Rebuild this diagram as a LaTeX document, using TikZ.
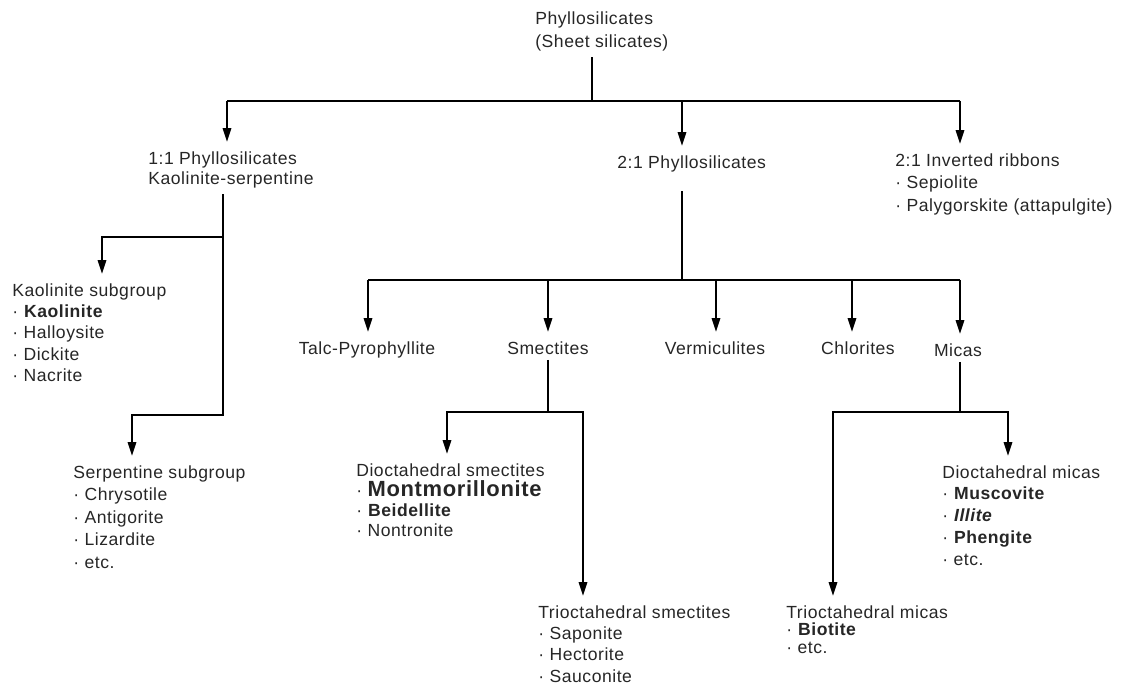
\documentclass[tikz,border=0pt]{standalone}
\usepackage{fontspec}
\setmainfont{Liberation Sans}[LetterSpace=3]
\usetikzlibrary{arrows.meta}

\begin{document}
\begin{tikzpicture}[x=0.02cm,y=-0.02cm,
    lbl/.style={inner sep=0pt,align=left,text=black!85},
    line/.style={line width=1.3pt},
    arr/.style={line width=1.5pt,-{Triangle[length=8pt,width=4.6pt]},shorten >=5pt},
    stem/.style={line width=1.3pt,shorten <=3pt}]
\useasboundingbox (0,0) rectangle (1135,685);

% labels
\node[lbl,anchor=north west,font=\fontsize{10pt}{13.6pt}\selectfont] (root) at (535,11)
    {Phyllosilicates\\(Sheet silicates)};
\node[lbl,anchor=north west,font=\fontsize{10pt}{11.9pt}\selectfont] (p11) at (148,151)
    {1:1 Phyllosilicates\\Kaolinite-serpentine};
\node[lbl,anchor=north west,font=\fontsize{10pt}{12pt}\selectfont] (p21) at (617,155)
    {2:1 Phyllosilicates};
\node[lbl,anchor=north west,font=\fontsize{10pt}{13pt}\selectfont] (ribbons) at (895,153)
    {2:1 Inverted ribbons\\· Sepiolite\\· Palygorskite (attapulgite)};
\node[lbl,anchor=north west,font=\fontsize{10pt}{12.2pt}\selectfont] (kaol) at (12,283)
    {Kaolinite subgroup\\· \textbf{Kaolinite}\\· Halloysite\\· Dickite\\· Nacrite};
\node[lbl,anchor=north west,font=\fontsize{10pt}{12.8pt}\selectfont] (serp) at (73,465)
    {Serpentine subgroup\\· Chrysotile\\· Antigorite\\· Lizardite\\· etc.};
\node[lbl,anchor=north,font=\fontsize{10pt}{12pt}\selectfont] (talc) at (367,341) {Talc-Pyrophyllite};
\node[lbl,anchor=north,font=\fontsize{10pt}{12pt}\selectfont] (smec) at (548,341) {Smectites};
\node[lbl,anchor=north,font=\fontsize{10pt}{12pt}\selectfont] (verm) at (715,341) {Vermiculites};
\node[lbl,anchor=north,font=\fontsize{10pt}{12pt}\selectfont] (chlo) at (858,341) {Chlorites};
\node[lbl,anchor=north,font=\fontsize{10pt}{12pt}\selectfont] (micas) at (958,343) {Micas};
\node[lbl,anchor=north west,font=\fontsize{10pt}{11.5pt}\selectfont] (dsm) at (356,463)
    {Dioctahedral smectites\\· {\fontsize{12.5pt}{13pt}\selectfont\bfseries Montmorillonite}\\
     · \textbf{Beidellite}\\· Nontronite};
\node[lbl,anchor=north west,font=\fontsize{10pt}{12.2pt}\selectfont] (tsm) at (538,605)
    {Trioctahedral smectites\\· Saponite\\· Hectorite\\· Sauconite};
\node[lbl,anchor=north west,font=\fontsize{10pt}{12.4pt}\selectfont] (dmi) at (942,465)
    {Dioctahedral micas\\· \textbf{Muscovite}\\· \textbf{\itshape Illite}\\· \textbf{Phengite}\\· etc.};
\node[lbl,anchor=north west,font=\fontsize{10pt}{10pt}\selectfont] (tmi) at (786,605)
    {Trioctahedral micas\\· \textbf{Biotite}\\· etc.};

% junctions
\coordinate (rj) at (592,101);
\coordinate (bl) at (227,101);
\coordinate (bm) at (682,101);
\coordinate (br) at (960,101);
\coordinate (k1) at (223,237);
\coordinate (kb) at (102,237);
\coordinate (k2) at (223,415);
\coordinate (ks) at (132,415);
\coordinate (sj) at (682,280);
\coordinate (sl) at (368,280);
\coordinate (sr) at (960,280);
\coordinate (smj) at (548,412);
\coordinate (sml) at (447,412);
\coordinate (smr) at (583,412);
\coordinate (mij) at (960,412);
\coordinate (mil) at (833,412);
\coordinate (mir) at (1008,412);

% top level
\draw[stem] (rj |- root.south) -- (rj);
\draw[line] (bl) -- (br);
\draw[arr] (bl) -- (bl |- p11.north);
\draw[arr] (bm) -- (bm |- p21.north);
\draw[arr] (br) -- (br |- ribbons.north);

% 1:1 branch
\draw[arr,shorten <=3pt] (k2 |- p11.south) -- (k2) -- (ks) -- (ks |- serp.north);
\draw[arr] (k1) -- (kb) -- (kb |- kaol.north);

% 2:1 branch
\draw[stem,shorten <=11pt] (sj |- p21.south) -- (sj);
\draw[line] (sl) -- (sr);
\foreach \x/\n in {368/talc,548/smec,716/verm,852/chlo,960/micas}
    \draw[arr] (\x,280) -- (\x,280 |- \n.north);

% smectites
\draw[stem] (smj |- smec.south) -- (smj);
\draw[arr] (smj) -- (sml) -- (sml |- dsm.north);
\draw[arr] (smj) -- (smr) -- (smr |- tsm.north);

% micas
\draw[stem] (mij |- micas.south) -- (mij);
\draw[arr] (mij) -- (mil) -- (mil |- tmi.north);
\draw[arr] (mij) -- (mir) -- (mir |- dmi.north);
\end{tikzpicture}
\end{document}
